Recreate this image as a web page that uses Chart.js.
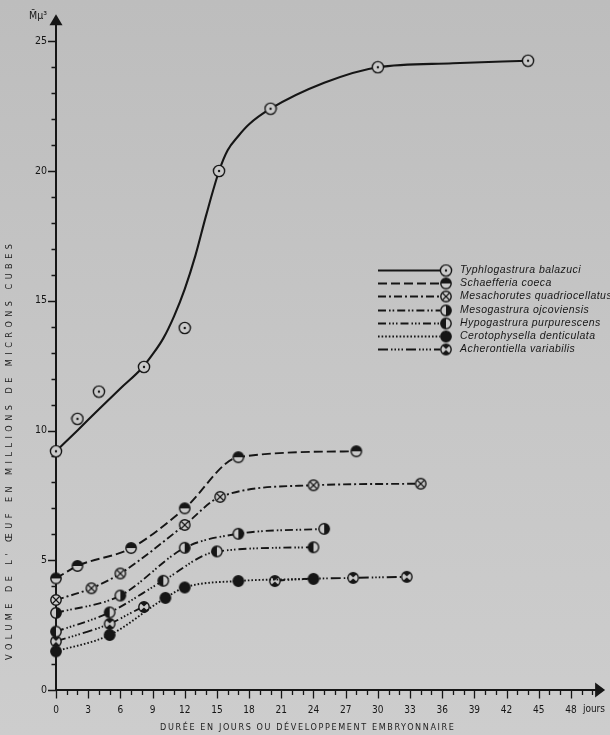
<!DOCTYPE html>
<html>
<head>
<meta charset="utf-8">
<title>Volume de l'œuf</title>
<script src="https://cdn.jsdelivr.net/npm/chart.js@4/dist/chart.umd.min.js"></script>
<style>
  html, body { margin: 0; padding: 0; background: #c6c6c6; }
  canvas { display: block; }
</style>
</head>
<body>
<canvas id="chart" width="610" height="735"></canvas>
<script>
// Durée (jours) et volume moyen de l'œuf (millions de µ³) pour chaque espèce
const typhloDays = [0, 2, 4, 8.2, 12, 15.2, 20, 30, 44];
const typhloVol  = [9.2, 10.45, 11.5, 12.45, 13.95, 20.0, 22.4, 24.0, 24.25];
// courbe d'ajustement tracée à travers le nuage de Typhlogastrura
const typhloCurveDays = [0, 2, 4, 6, 8, 9, 10, 11, 12, 13, 14, 15.2, 16, 17, 18, 20, 25, 30, 37, 44];
const typhloCurveVol  = [9.2, 10.0, 10.82, 11.62, 12.4, 12.93, 13.55, 14.4, 15.45, 16.75, 18.3, 20.0, 20.8, 21.35, 21.8, 22.4, 23.4, 24.0, 24.15, 24.25];

const schaefDays = [0, 2, 7, 12, 17, 28];
const schaefVol  = [4.3, 4.78, 5.47, 7.0, 8.97, 9.2];

const mesachDays = [0, 3.3, 6, 12, 15.3, 24, 34];
const mesachVol  = [3.47, 3.92, 4.49, 6.36, 7.44, 7.89, 7.95];

const mesogDays = [0, 6, 12, 17, 25];
const mesogVol  = [2.97, 3.64, 5.48, 6.02, 6.21];

const hypogDays = [0, 5, 10, 15, 24];
const hypogVol  = [2.25, 2.99, 4.21, 5.34, 5.5];

const cerotDays = [0, 5, 10.2, 12, 17, 24];
const cerotVol  = [1.49, 2.12, 3.55, 3.95, 4.2, 4.28];

const acherDays = [0, 5, 8.2, 20.4, 27.7, 32.7];
const acherVol  = [1.87, 2.55, 3.2, 4.2, 4.32, 4.36];

const speciesNames = [
  'Typhlogastrura balazuci',
  'Schaefferia coeca',
  'Mesachorutes quadriocellatus',
  'Mesogastrura ojcoviensis',
  'Hypogastrura purpurescens',
  'Cerotophysella denticulata',
  'Acherontiella variabilis'
];

const xTickStep = 3, xLastTick = 48, xMax = 51;
const yTickStep = 5, yLastTick = 25, yMax = 26;
const xUnit = 'jours';
const yUnit = 'M\u0304\u00b5\u00b3';
const xTitle = 'DURÉE EN JOURS OU DÉVELOPPEMENT EMBRYONNAIRE';
const yTitle = "VOLUME DE L' ŒUF EN MILLIONS DE MICRONS CUBES";

const ink = '#161616';
const paper = '#cacaca';
const labelFont = '"DejaVu Sans Condensed", "Liberation Sans Narrow", "Liberation Sans", sans-serif';

function pairs(xs, ys) { return xs.map((x, i) => ({ x, y: ys[i] })); }

// small circular markers, one style per species
function makeSymbol(kind, r) {
  const s = 14;
  const c = document.createElement('canvas');
  c.width = s; c.height = s;
  const g = c.getContext('2d');
  const m = s / 2;
  g.fillStyle = paper;
  g.beginPath(); g.arc(m, m, r, 0, Math.PI * 2); g.fill();
  g.save();
  g.beginPath(); g.arc(m, m, r, 0, Math.PI * 2); g.clip();
  g.fillStyle = ink; g.strokeStyle = ink; g.lineWidth = 1.1;
  if (kind === 'dot') { g.beginPath(); g.arc(m, m, 1.2, 0, Math.PI * 2); g.fill(); }
  if (kind === 'top') g.fillRect(m - r, m - r, 2 * r, r);
  if (kind === 'cross') {
    const k = r * 0.72;
    g.beginPath();
    g.moveTo(m - k, m - k); g.lineTo(m + k, m + k);
    g.moveTo(m + k, m - k); g.lineTo(m - k, m + k);
    g.stroke();
  }
  if (kind === 'right') g.fillRect(m, m - r, r, 2 * r);
  if (kind === 'left') g.fillRect(m - r, m - r, r, 2 * r);
  if (kind === 'full') g.fillRect(0, 0, s, s);
  if (kind === 'hourglass') {
    g.beginPath();
    g.moveTo(m - r, m - r); g.lineTo(m + r, m - r); g.lineTo(m, m - 0.6); g.closePath();
    g.moveTo(m - r, m + r); g.lineTo(m + r, m + r); g.lineTo(m, m + 0.6); g.closePath();
    g.fill();
  }
  g.restore();
  g.lineWidth = 1.4; g.strokeStyle = ink;
  g.beginPath(); g.arc(m, m, r, 0, Math.PI * 2); g.stroke();
  return c;
}

const symbols = {
  typhlo: makeSymbol('dot', 5.6),
  schaef: makeSymbol('top', 5.2),
  mesach: makeSymbol('cross', 5.2),
  mesog: makeSymbol('right', 5.2),
  hypog: makeSymbol('left', 5.2),
  cerot: makeSymbol('full', 5.2),
  acher: makeSymbol('hourglass', 5.2)
};

const dashes = {
  typhlo: [],
  schaef: [9, 4],
  mesach: [8, 3, 2, 3],
  mesog: [8, 3, 1.6, 2, 1.6, 3],
  hypog: [8, 3, 1.5, 2, 1.5, 2, 1.5, 3],
  cerot: [1.6, 2],
  acher: [10, 3, 1.5, 2, 1.5, 2, 1.5, 2, 1.5, 3]
};

function series(label, key, xs, ys, extra) {
  return Object.assign({
    label,
    data: pairs(xs, ys),
    borderColor: ink,
    borderWidth: 1.9,
    borderDash: dashes[key],
    borderCapStyle: 'butt',
    pointStyle: symbols[key],
    pointRadius: 5,
    pointHoverRadius: 5,
    cubicInterpolationMode: 'monotone',
    fill: false,
    clip: false,
    symbolKey: key
  }, extra || {});
}

const datasets = [
  series(speciesNames[0], 'typhlo', typhloDays, typhloVol, { showLine: false }),
  series(speciesNames[1], 'schaef', schaefDays, schaefVol),
  series(speciesNames[2], 'mesach', mesachDays, mesachVol),
  series(speciesNames[3], 'mesog', mesogDays, mesogVol),
  series(speciesNames[4], 'hypog', hypogDays, hypogVol),
  series(speciesNames[5], 'cerot', cerotDays, cerotVol),
  // between day 8 and day 20 this trace runs along the Cerotophysella curve, so it is not drawn twice
  series(speciesNames[6], 'acher', acherDays, acherVol, {
    segment: { borderColor: ctx => (ctx.p1.parsed.x - ctx.p0.parsed.x > 10 ? 'rgba(0,0,0,0)' : ink) }
  }),
  {
    label: 'Typhlogastrura (courbe)',
    data: pairs(typhloCurveDays, typhloCurveVol),
    borderColor: ink,
    borderWidth: 2.1,
    pointRadius: 0,
    cubicInterpolationMode: 'monotone',
    fill: false,
    clip: false
  }
];

// paper background
const backgroundPlugin = {
  id: 'paper',
  beforeDraw(chart) {
    const { ctx, width, height } = chart;
    const grad = ctx.createLinearGradient(0, 0, 0, height);
    grad.addColorStop(0, '#bdbdbd');
    grad.addColorStop(0.5, '#c6c6c6');
    grad.addColorStop(1, '#cdcdcd');
    ctx.save();
    ctx.fillStyle = grad;
    ctx.fillRect(0, 0, width, height);
    ctx.restore();
  }
};

// axes with arrows, minor / major ticks, units and titles
const axesPlugin = {
  id: 'arrowAxes',
  beforeDatasetsDraw(chart) {
    const { ctx, chartArea } = chart;
    const xs = chart.scales.x, ys = chart.scales.y;
    const x0 = xs.getPixelForValue(0), y0 = ys.getPixelForValue(0);
    ctx.save();
    ctx.strokeStyle = ink; ctx.fillStyle = ink;
    ctx.lineWidth = 2;
    ctx.beginPath();
    ctx.moveTo(x0, y0 + 1); ctx.lineTo(x0, chartArea.top + 8);
    ctx.moveTo(x0 - 1, y0); ctx.lineTo(chartArea.right - 6, y0);
    ctx.stroke();
    // arrow heads
    ctx.beginPath();
    ctx.moveTo(x0, chartArea.top - 1);
    ctx.lineTo(x0 - 6.5, chartArea.top + 10);
    ctx.lineTo(x0 + 6.5, chartArea.top + 10);
    ctx.closePath(); ctx.fill();
    ctx.beginPath();
    ctx.moveTo(chartArea.right + 2, y0);
    ctx.lineTo(chartArea.right - 8, y0 - 7.5);
    ctx.lineTo(chartArea.right - 8, y0 + 7.5);
    ctx.closePath(); ctx.fill();

    ctx.lineWidth = 1.3;
    ctx.beginPath();
    for (let v = 0; v <= yLastTick; v++) {
      const p = Math.round(ys.getPixelForValue(v)) + 0.5;
      const len = v % yTickStep === 0 ? 8 : 4.5;
      ctx.moveTo(x0 - len, p); ctx.lineTo(x0, p);
    }
    for (let d = 0; d <= xMax - 1; d++) {
      const p = Math.round(xs.getPixelForValue(d)) + 0.5;
      const len = d % xTickStep === 0 ? 8.5 : 5;
      ctx.moveTo(p, y0); ctx.lineTo(p, y0 + len);
    }
    ctx.stroke();

    // units
    ctx.font = '10px ' + labelFont;
    ctx.textBaseline = 'middle';
    ctx.textAlign = 'left';
    ctx.fillText(xUnit, xs.getPixelForValue(xLastTick) + 12, 709);
    ctx.font = '10.5px ' + labelFont;
    ctx.textAlign = 'right';
    ctx.fillText(yUnit, x0 - 9, 16);

    // axis titles
    ctx.font = '9px ' + labelFont;
    ctx.textAlign = 'center';
    ctx.fillStyle = '#222';
    fitText(ctx, xTitle, 307, 728, 294);
    ctx.translate(10, 452);
    ctx.rotate(-Math.PI / 2);
    fitText(ctx, yTitle, 0, 0, 416);
    ctx.restore();
  }
};

function fitText(ctx, text, x, y, width) {
  ctx.letterSpacing = '0px';
  const w0 = ctx.measureText(text).width;
  const sp = Math.max(0, (width - w0) / (text.length - 1));
  ctx.letterSpacing = sp.toFixed(2) + 'px';
  ctx.fillText(text, x + sp / 2, y);
  ctx.letterSpacing = '0px';
}

// key: line sample, marker and species name
const keyPlugin = {
  id: 'speciesKey',
  afterDatasetsDraw(chart) {
    const { ctx } = chart;
    const rowTop = 270, rowStep = 13.2;
    const lineFrom = 378, lineTo = 440, markX = 446, textX = 460;
    ctx.save();
    ctx.font = 'italic 10.5px "Liberation Sans", Arimo, sans-serif';
    ctx.letterSpacing = '0.45px';
    ctx.textBaseline = 'middle';
    ctx.textAlign = 'left';
    datasets.slice(0, speciesNames.length).forEach((ds, i) => {
      const y = Math.round(rowTop + i * rowStep) + 0.5;
      ctx.strokeStyle = ink;
      ctx.lineWidth = 1.9;
      ctx.setLineDash(dashes[ds.symbolKey]);
      ctx.beginPath(); ctx.moveTo(lineFrom, y); ctx.lineTo(lineTo, y); ctx.stroke();
      ctx.setLineDash([]);
      const img = symbols[ds.symbolKey];
      ctx.drawImage(img, markX - img.width / 2, y - img.height / 2);
      ctx.fillStyle = ink;
      ctx.fillText(ds.label, textX, y);
    });
    ctx.restore();
  }
};

new Chart(document.getElementById('chart'), {
  type: 'line',
  data: { datasets },
  options: {
    responsive: false,
    animation: false,
    devicePixelRatio: 1,
    layout: { padding: { top: 9, right: 3, left: 0, bottom: 0 } },
    plugins: { legend: { display: false }, tooltip: { enabled: false } },
    scales: {
      x: {
        type: 'linear',
        min: 0, max: xMax,
        grid: { display: false, drawTicks: false },
        border: { display: false },
        ticks: {
          stepSize: xTickStep, autoSkip: false, maxRotation: 0, padding: 14,
          color: ink, font: { family: labelFont, size: 10 }
        },
        afterBuildTicks: s => { s.ticks = s.ticks.filter(t => t.value <= xLastTick); },
        afterFit: s => { s.height = 45; }
      },
      y: {
        type: 'linear',
        min: 0, max: yMax,
        grid: { display: false, drawTicks: false },
        border: { display: false },
        ticks: {
          stepSize: yTickStep, padding: 9,
          color: ink, font: { family: labelFont, size: 10.5 }
        },
        afterBuildTicks: s => { s.ticks = s.ticks.filter(t => t.value <= yLastTick); },
        afterFit: s => { s.width = 56; }
      }
    }
  },
  plugins: [backgroundPlugin, axesPlugin, keyPlugin]
});
</script>
</body>
</html>
